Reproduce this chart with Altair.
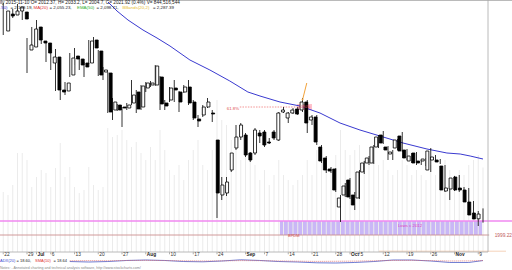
import altair as alt
import pandas as pd

# ---------------- data (slot 0 = Mon Jun 22 2015 ... slot 101 = Tue Nov 10 2015)
opens = [2388, 2422, 2420, 2428, 2426, 2350, 2356, 2396, 2368, 2364,
         2324, 2336, 2270, 2268, 2300, 2338, 2332, 2324, 2324, 2370,
         2348, 2306, 2304, 2230, 2240, 2236, 2234, 2244, 2266, 2236,
         2274, 2280, 2280, 2296, 2244, 2250, 2274, 2266, 2266, 2276,
         2246, 2212, 2220, 2236, 2224, 2170, 2060, 2064, 2110, 2154,
         2176, 2180, 2144, 2144, 2184, 2186, 2166, 2186, 2170, 2226,
         2214, 2224, 2232, 2230, 2246, 2210, 2216, 2156, 2134, 2112,
         2112, 2036, 2060, 2090, 2060, 2054, 2106, 2124, 2124, 2156,
         2180, 2156, 2142, 2154, 2178, 2150, 2128, 2144, 2128, 2128,
         2110, 2130, 2130, 2118, 2068, 2072, 2096, 2074, 2070, 2046,
         2024, 2012.37]
highs = [2444, 2426, 2432, 2442, 2430, 2374, 2396, 2410, 2370, 2366,
         2350, 2352, 2280, 2286, 2344, 2354, 2334, 2326, 2370, 2376,
         2350, 2316, 2306, 2254, 2242, 2236, 2244, 2290, 2270, 2280,
         2286, 2288, 2320, 2298, 2250, 2276, 2290, 2268, 2280, 2290,
         2250, 2220, 2240, 2254, 2230, 2170, 2096, 2096, 2144, 2200,
         2204, 2184, 2146, 2194, 2190, 2190, 2174, 2190, 2226, 2236,
         2226, 2234, 2236, 2254, 2250, 2220, 2220, 2160, 2138, 2116,
         2114, 2060, 2084, 2094, 2066, 2110, 2128, 2138, 2160, 2180,
         2188, 2158, 2150, 2172, 2186, 2152, 2144, 2146, 2130, 2134,
         2154, 2140, 2132, 2120, 2078, 2098, 2100, 2076, 2074, 2048,
         2028, 2033.2]
lows = [2380, 2414, 2414, 2424, 2410, 2304, 2354, 2368, 2362, 2326,
        2310, 2268, 2250, 2260, 2296, 2320, 2310, 2296, 2322, 2352,
        2298, 2290, 2224, 2210, 2228, 2196, 2230, 2240, 2224, 2230,
        2266, 2276, 2278, 2230, 2230, 2246, 2246, 2226, 2264, 2240,
        2210, 2196, 2216, 2234, 2206, 2014, 2050, 2058, 2106, 2150,
        2170, 2136, 2126, 2140, 2164, 2156, 2162, 2170, 2168, 2224,
        2204, 2222, 2220, 2226, 2184, 2200, 2160, 2124, 2104, 2104,
        2066, 2006, 2056, 2052, 2030, 2052, 2102, 2120, 2122, 2154,
        2162, 2130, 2130, 2150, 2146, 2130, 2124, 2120, 2120, 2118,
        2106, 2126, 2122, 2066, 2050, 2068, 2066, 2066, 2042, 2018,
        1998, 2004.7]
closes = [2428, 2418, 2428, 2436, 2412, 2360, 2392, 2370, 2364, 2344,
          2336, 2270, 2266, 2284, 2334, 2332, 2320, 2316, 2368, 2354,
          2300, 2310, 2226, 2246, 2230, 2234, 2240, 2260, 2232, 2278,
          2284, 2284, 2318, 2242, 2238, 2274, 2270, 2246, 2276, 2244,
          2214, 2208, 2236, 2246, 2222, 2064, 2080, 2086, 2144, 2176,
          2200, 2140, 2130, 2190, 2178, 2160, 2164, 2174, 2224, 2230,
          2224, 2230, 2222, 2246, 2204, 2216, 2166, 2128, 2110, 2108,
          2070, 2054, 2078, 2056, 2040, 2106, 2124, 2134, 2156, 2176,
          2164, 2150, 2146, 2170, 2148, 2134, 2138, 2124, 2124, 2132,
          2148, 2136, 2126, 2070, 2074, 2094, 2070, 2070, 2046, 2020,
          2012, 2021.92]
volume_m = [600, 570, 670, 990, 990, 920, 650, 750, 820, 790,
            650, 840, 1090, 750, 850, 650, 590, 620, 850, 670,
            620, 650, 1240, 1150, 1170, 1220, 1120, 1050, 1100, 990,
            920, 1050, 920, 1220, 1020, 820, 770, 870, 720, 920,
            1020, 1120, 870, 820, 1020, 1520, 1320, 1270, 1120, 1020,
            920, 1020, 920, 870, 720, 820, 670, 770, 920, 770,
            720, 670, 720, 770, 920, 770, 1020, 970, 920, 820,
            970, 1220, 1020, 970, 1020, 1070, 920, 870, 920, 870,
            920, 820, 770, 820, 920, 870, 770, 820, 770, 720,
            870, 770, 720, 920, 820, 770, 820, 770, 870, 920,
            970, 845]

ma_slot = [22.05, 23.95, 26.26, 29.42, 32.37, 35.1, 39.3, 43.5, 47.7, 51.5, 54.05,
           58.26, 62.47, 66.68, 70.9, 75.1, 79.3, 84.16, 89.2, 93.4, 96.2, 98.3, 101.0]
ma_val = [2446, 2428, 2410, 2390, 2374, 2358, 2330, 2310, 2288, 2266, 2258,
          2246, 2238, 2224, 2204, 2190, 2178, 2164, 2152, 2144, 2142, 2138, 2132]

tick_slots = [0, 5, 7, 10, 15, 20, 25, 30, 35, 40, 45, 51, 55, 60, 65, 70, 73, 75, 80, 85, 90, 95, 100]
tick_labels = ["22", "29", "Jul", "6", "13", "20", "27", "Aug", "10", "17", "24", "Sep",
               "7", "14", "21", "28", "Oct", "5", "12", "19", "26", "Nov", "9"]
months = ["Jul", "Aug", "Sep", "Oct", "Nov"]

strip_slot = [14, 18, 22, 26, 30, 34, 38, 42, 46, 50, 54, 58, 62, 66, 70, 74, 78, 82, 86, 90, 94, 98, 101]
strip_blue = [16.2, 15.0, 16.2, 18.8, 20.0, 18.8, 16.2, 15.5, 17.5, 20.5, 18.8, 16.2,
              15.0, 13.0, 12.5, 13.8, 16.2, 20.0, 20.0, 17.5, 13.8, 13.8, 18.6]
strip_red = [18.0, 18.5, 18.2, 18.8, 19.0, 18.6, 18.0, 17.5, 17.8, 18.5, 18.3, 17.6,
             17.0, 16.5, 16.8, 17.2, 18.0, 18.8, 19.0, 18.5, 17.5, 17.8, 18.64]

# ---------------- tables
c = pd.DataFrame({"slot": list(range(len(opens))), "open": opens, "high": highs,
                  "low": lows, "close": closes, "vol": volume_m})
c["up"] = c["close"] >= c["open"]
c["blo"] = c[["open", "close"]].min(axis=1)
c["bhi"] = c[["open", "close"]].max(axis=1)
c["v0"] = 0

XS = alt.Scale(domain=[-0.6842, 107.105], range=[0, 512], nice=False, zero=False)
YP = alt.Scale(domain=[1910, 2450], range=[270, 0], nice=False, zero=False)
YV = alt.Scale(domain=[0, 2500], range=[252, 2], nice=False, zero=False)
YI = alt.Scale(domain=[10, 30], range=[264, 256], nice=False, zero=False)
PX = alt.Scale(domain=[0, 512], range=[0, 512], nice=False, zero=False)
PY = alt.Scale(domain=[0, 270], range=[0, 270], nice=False, zero=False)
FONT = "Liberation Sans"


def xq(f):
    return alt.X(f, type="quantitative", scale=XS, axis=None)


def yp(f):
    return alt.Y(f, type="quantitative", scale=YP, axis=None)


box = pd.DataFrame({"x0": [58.25], "x1": [100.8], "top": [2008], "bot": [1980]})
box_layer = alt.Chart(box).mark_rect(color="#c9b7f6").encode(
    x=xq("x0"), x2="x1", y=yp("top"), y2="bot")

vol_layer = alt.Chart(c).mark_rule(color="#ebebeb", strokeWidth=1).encode(
    x=xq("slot"), y=alt.Y("vol:Q", scale=YV, axis=None), y2="v0")

levels = pd.DataFrame({"x0": [-1, -1], "x1": [108, 102.3], "p": [2008, 1980],
                       "col": ["#f088f0", "#cc8f8f"], "w": [1.7, 0.9]})
level_layer = alt.Chart(levels).mark_rule().encode(
    x=xq("x0"), x2="x1", y=yp("p"),
    color=alt.Color("col:N", scale=None), strokeWidth=alt.StrokeWidth("w:Q", scale=None))

fib = pd.DataFrame({"x0": [49.8], "x1": [64.6], "p": [2236]})
fib_layer = alt.Chart(fib).mark_rule(color="#f07878", strokeWidth=0.8, strokeDash=[1.5, 1.2]).encode(
    x=xq("x0"), x2="x1", y=yp("p"))

hl = pd.DataFrame({"x0": [61.84], "x1": [65.0], "top": [2242], "bot": [2230]})
hl_layer = alt.Chart(hl).mark_rect(color="#ff8fa0", opacity=0.55).encode(
    x=xq("x0"), x2="x1", y=yp("top"), y2="bot")

ma = pd.DataFrame({"slot": ma_slot, "v": ma_val})
ma_layer = alt.Chart(ma).mark_line(color="#3a3ad0", strokeWidth=1).encode(
    x=xq("slot"), y=yp("v"))

arrow = pd.DataFrame({"slot": [63.9, 63.0], "v": [2284, 2250], "o": [0, 1]})
arrow_layer = alt.Chart(arrow).mark_line(color="#f2a23a", strokeWidth=1).encode(
    x=xq("slot"), y=yp("v"), order="o:Q")
arrow_pt = alt.Chart(arrow[arrow.o == 1]).mark_point(
    color="#f2a23a", filled=True, size=6, shape="triangle-down").encode(
    x=xq("slot"), y=yp("v"))

wick_layer = alt.Chart(c).mark_rule(color="black", strokeWidth=0.8).encode(
    x=xq("slot"), y=yp("low"), y2="high")
body_layer = alt.Chart(c).mark_bar(size=3, stroke="black", strokeWidth=0.8).encode(
    x=xq("slot"), y=yp("blo"), y2="bhi",
    fill=alt.condition("datum.up", alt.value("white"), alt.value("black")))

strip = pd.DataFrame({"slot": strip_slot * 2, "v": strip_blue + strip_red,
                      "s": ["b"] * len(strip_slot) + ["r"] * len(strip_slot)})
strip_b = alt.Chart(strip[strip.s == "b"]).mark_line(color="#4a5cc8", strokeWidth=0.8).encode(
    x=xq("slot"), y=alt.Y("v:Q", scale=YI, axis=None))
strip_r = alt.Chart(strip[strip.s == "r"]).mark_line(
    color="#e06a6a", strokeWidth=0.8, strokeDash=[1, 1]).encode(
    x=xq("slot"), y=alt.Y("v:Q", scale=YI, axis=None))

ticks = pd.DataFrame({"slot": tick_slots, "lab": tick_labels})
ticks["month"] = ticks["lab"].isin(months)
tick_layer = alt.Chart(ticks).mark_rule(color="#777", strokeWidth=0.6).encode(
    x=xq("slot"), y=alt.value(252.3), y2=alt.value(254.3))
lab_layer = alt.Chart(ticks[~ticks.month]).mark_text(
    align="left", baseline="middle", dx=1.0, fontSize=4.8, font=FONT, color="#333").encode(
    x=xq("slot"), y=alt.value(254.6), text="lab:N")
mon_layer = alt.Chart(ticks[ticks.month]).mark_text(
    align="left", baseline="middle", dx=1.0, fontSize=4.8, font=FONT, fontWeight="bold", color="#222").encode(
    x=xq("slot"), y=alt.value(254.6), text="lab:N")

# borders in pixel space
borders = pd.DataFrame({"x0": [0, 488, 0], "x1": [512, 488, 488],
                        "y0": [0.5, 0, 252], "y1": [0.5, 252, 252]})
border_layer = alt.Chart(borders).mark_rule(color="#a8a8a8", strokeWidth=0.8).encode(
    x=alt.X("x0:Q", scale=PX, axis=None), x2="x1",
    y=alt.Y("y0:Q", scale=PY, axis=None), y2="y1")
faint = pd.DataFrame({"x0": [379], "x1": [506], "y0": [251.2], "y1": [251.2]})
faint_layer = alt.Chart(faint).mark_rule(color="#f3c7a8", strokeWidth=0.8).encode(
    x=alt.X("x0:Q", scale=PX, axis=None), x2="x1",
    y=alt.Y("y0:Q", scale=PY, axis=None), y2="y1")

# annotation texts (pixel space)
txt_left = pd.DataFrame([
    (0, 2.6, "ily 2015-11-10  O= 2012.37, H= 2033.2, L= 2004.7, C= 2021.92 (0.4%) V= 844,516,544", "#222", 4.7),
    (0, 7.8, ".50)", "#3a3ad0", 4.4),
    (10.5, 7.8, "= 2,189.19,", "#222", 4.4),
    (33.5, 7.8, "MA(20)", "#e03030", 4.4),
    (49.5, 7.8, "= 2,055.23,", "#222", 4.4),
    (77, 7.8, "EMA(50)", "#30b030", 4.4),
    (96.5, 7.8, "= 2,098.71,", "#222", 4.4),
    (122.5, 7.8, "BBands(20,2)", "#e8c030", 4.4),
    (153, 7.8, "= 2,287.39", "#222", 4.4),
    (0, 260.6, "ADX(20)", "#3a4ad0", 4.0),
    (16.5, 260.6, "= 18.60,", "#222", 4.0),
    (35, 260.6, "SMA(10)", "#e03030", 4.0),
    (53.5, 260.6, "= 18.64", "#222", 4.0),
    (0, 267.6, "Notes: - Annotated charting and technical analysis software, http://www.stockcharts.com/",
     "#888", 3.6),
    (288, 235.8, "BPDM", "#d04848", 4.0),
], columns=["px", "py", "t", "col", "fs"])
tl_layer = alt.Chart(txt_left).mark_text(align="left", baseline="middle", font=FONT).encode(
    x=alt.X("px:Q", scale=PX, axis=None), y=alt.Y("py:Q", scale=PY, axis=None),
    text="t:N", color=alt.Color("col:N", scale=None), size=alt.Size("fs:Q", scale=None))

txt_right = pd.DataFrame([
    (512, 235.6, "1999.22", "#c05a5a", 4.8),
    (239, 108.6, "61.8%", "#e05050", 4.3),
], columns=["px", "py", "t", "col", "fs"])
tr_layer = alt.Chart(txt_right).mark_text(align="right", baseline="middle", font=FONT).encode(
    x=alt.X("px:Q", scale=PX, axis=None), y=alt.Y("py:Q", scale=PY, axis=None),
    text="t:N", color=alt.Color("col:N", scale=None), size=alt.Size("fs:Q", scale=None))

txt_center = pd.DataFrame([
    (410, 225.5, "Lows c 2012", "#e040c0", 4.3),
    (304.5, 107.2, "100.0%", "#f05070", 3.4),
], columns=["px", "py", "t", "col", "fs"])
tc_layer = alt.Chart(txt_center).mark_text(align="center", baseline="middle", font=FONT).encode(
    x=alt.X("px:Q", scale=PX, axis=None), y=alt.Y("py:Q", scale=PY, axis=None),
    text="t:N", color=alt.Color("col:N", scale=None), size=alt.Size("fs:Q", scale=None))

chart = alt.layer(
    box_layer, vol_layer, level_layer, faint_layer, border_layer, fib_layer, hl_layer,
    ma_layer, wick_layer, body_layer, arrow_layer, arrow_pt,
    strip_b, strip_r, tick_layer, lab_layer, mon_layer,
    tl_layer, tr_layer, tc_layer,
).resolve_scale(x="independent", y="independent").properties(
    width=512, height=270, padding=0,
    autosize=alt.AutoSizeParams(type="none"),
    background="white",
).configure_view(stroke=None)

chart.save("out.html", embed_options={"renderer": "svg", "actions": False})
